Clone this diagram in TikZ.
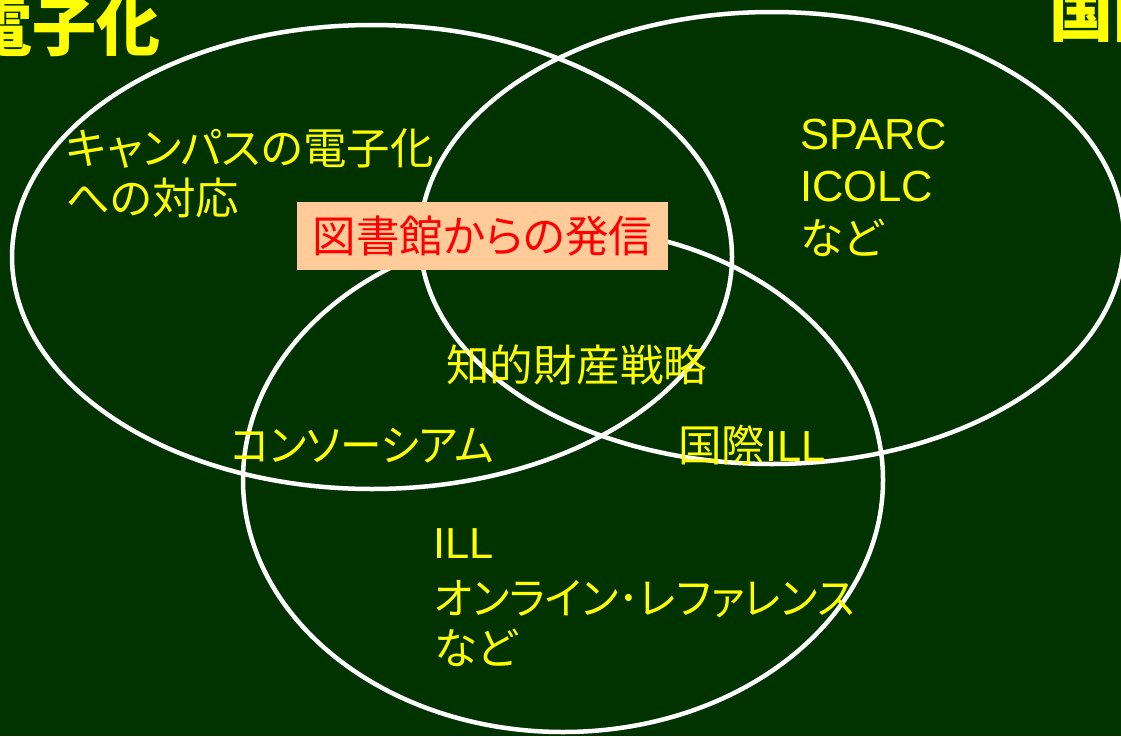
\documentclass[tikz,border=0pt]{standalone}
\usepackage{fontspec}
\setmainfont{Liberation Sans}
\newfontfamily\cjk[RawFeature=+palt]{Noto Sans CJK JP}
\newfontfamily\cjknarrow[RawFeature=+palt,FakeStretch=0.955]{Noto Sans CJK JP}
\definecolor{bg}{HTML}{003300}
\definecolor{txt}{HTML}{FFFF00}
\definecolor{peach}{HTML}{FFCC99}
\begin{document}
\begin{tikzpicture}[x=1pt,y=-1pt,
  ring/.style={draw=white,line width=4.5pt},
  lbl/.style={anchor=base west,inner sep=0pt,text=txt,font=\fontsize{43.5}{43.5}\selectfont},
  ttl/.style={anchor=base west,inner sep=0pt,text=txt,font=\fontsize{64}{64}\selectfont\cjk\bfseries},
  boxlbl/.style={fill=peach,text=red,inner sep=0pt,minimum width=371pt,minimum height=68pt,font=\fontsize{43.5}{43.5}\selectfont\cjk}]
\useasboundingbox (0,0) rectangle (1121,736);
\clip (0,0) rectangle (1121,736);
\fill[bg] (0,0) rectangle (1121,736);
% circles
\coordinate (cA) at (372,257);
\coordinate (cB) at (772,238);
\coordinate (cC) at (563,480);
\draw[ring] (cA) ellipse [x radius=360, y radius=232];
\draw[ring] (cB) ellipse [x radius=352, y radius=226];
\draw[ring] (cC) ellipse [x radius=320, y radius=252];
% titles
\node[ttl] (t1) at (-32,50) {電子化};
\node[ttl] (t2) at (1049,36) {国際化};
% labels
\node[lbl] (a1) at (66,164) {\cjk キャンパスの電子化};
\node[lbl] (a2) at (66,214) {\cjk への対応};
\node[lbl] (b1) at (800,149) {SPARC};
\node[lbl] (b2) at (800,201) {ICOLC};
\node[lbl] (b3) at (800,254) {\cjk など};
\node[boxlbl] (box) at (482.5,236) {図書館からの発信};
\node[lbl] (ab) at (446,381) {\cjk 知的財産戦略};
\node[lbl] (ac) at (230,461) {\cjknarrow コンソーシアム};
\node[lbl] (bc) at (678,461) {{\cjk 国際}ILL};
\node[lbl] (c1) at (433,558) {ILL};
\node[lbl] (c2) at (434,614) {\cjknarrow オンライン･レファレンス};
\node[lbl] (c3) at (434,664) {\cjk など};
\end{tikzpicture}
\end{document}
